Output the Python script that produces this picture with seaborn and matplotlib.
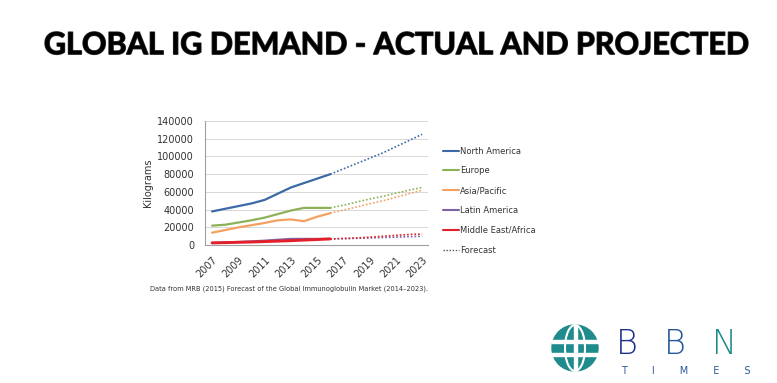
import matplotlib
matplotlib.use("Agg")
import matplotlib.pyplot as plt
import seaborn as sns
import pandas as pd
import numpy as np
from matplotlib.patches import Circle, Ellipse, Rectangle
from matplotlib.lines import Line2D
import matplotlib.patheffects as pe

years_actual = list(range(2007, 2017))
years_forecast = list(range(2016, 2024))

north_america = [38000, 41000, 44000, 47000, 51000, 58000, 65000, 70000, 75000, 80000]
europe = [22000, 23000, 25500, 28000, 31000, 35000, 39000, 42000, 42000, 42000]
asia_pacific = [14000, 17000, 20000, 22500, 25000, 28000, 29000, 27000, 32000, 36000]
latin_america = [2500, 3000, 3500, 4200, 5000, 6000, 7000, 7000, 7000, 7000]
middle_east_africa = [2500, 2800, 3200, 3500, 4000, 4500, 5000, 5700, 6300, 7000]

na_fc = [80000, 86000, 92000, 98000, 104000, 111000, 118000, 125000]
eu_fc = [42000, 45000, 48500, 52000, 55000, 58500, 62000, 65000]
ap_fc = [36000, 39500, 43000, 46500, 50000, 54000, 58000, 62000]
la_fc = [7000, 7300, 7700, 8100, 8500, 9000, 9500, 10000]
me_fc = [7000, 7500, 8000, 9000, 10000, 11000, 12000, 12500]

regions = ["North America", "Europe", "Asia/Pacific", "Latin America", "Middle East/Africa"]
colors = ["#3b6aa6", "#8db157", "#f4a060", "#7e62a3", "#e3202a"]

actual = [north_america, europe, asia_pacific, latin_america, middle_east_africa]
forecast = [na_fc, eu_fc, ap_fc, la_fc, me_fc]

rows = []
for r, a, f in zip(regions, actual, forecast):
    for y, v in zip(years_actual, a):
        rows.append(dict(Year=y, Value=v, Region=r, Kind="Actual"))
    for y, v in zip(years_forecast, f):
        rows.append(dict(Year=y, Value=v, Region=r, Kind="Forecast"))
df = pd.DataFrame(rows)

sns.set_theme(style="white")
plt.rcParams['font.family'] = ['DejaVu Sans']

fig = plt.figure(figsize=(7.77, 3.83), dpi=100)
ax = fig.add_axes([0.264, 0.360, 0.287, 0.324])

palette = dict(zip(regions, colors))
sns.lineplot(data=df[df.Kind == "Actual"], x="Year", y="Value", hue="Region",
             palette=palette, hue_order=regions, linewidth=1.6, ax=ax, legend=False)
sns.lineplot(data=df[df.Kind == "Forecast"], x="Year", y="Value", hue="Region",
             palette=palette, hue_order=regions, linewidth=1.2, linestyle=(0, (1, 1.2)),
             ax=ax, legend=False)
# emphasise the Middle East/Africa line, which sits on top in the reference
me_lines = ax.get_lines()
if len(me_lines) >= 5:
    me_lines[4].set_linewidth(2.1)
    me_lines[4].set_zorder(3)

ax.set_xlim(2006.47, 2023.46)
ax.set_ylim(0, 140000)
ax.set_yticks(range(0, 140001, 20000))
ax.set_xticks(range(2007, 2024, 2))
ax.set_xticklabels([str(y) for y in range(2007, 2024, 2)], rotation=45, fontsize=7,
                   ha="right", rotation_mode="anchor", color="#333333")
ax.tick_params(axis="y", labelsize=7, colors="#333333", pad=2)
ax.tick_params(axis="x", pad=1)
ax.set_xlabel("")
ax.set_ylabel("Kilograms", fontsize=7, color="#333333", labelpad=3)
ax.grid(axis="y", color="#d8d8d8", linewidth=0.7)
for s in ["top", "right"]:
    ax.spines[s].set_visible(False)
for s in ["left", "bottom"]:
    ax.spines[s].set_color("#a0a0a0")
    ax.spines[s].set_linewidth(0.8)

handles = [Line2D([0], [0], color=c, lw=1.5) for c in colors]
handles.append(Line2D([0], [0], color="#555555", lw=1.0, linestyle=(0, (1, 1.2))))
labels = regions + ["Forecast"]
leg = fig.legend(handles, labels, loc="upper left", bbox_to_anchor=(0.560, 0.637),
                 frameon=False, fontsize=6, handlelength=2.0, handletextpad=0.1,
                 labelspacing=1.3)
for t in leg.get_texts():
    t.set_color("#333333")

title = fig.text(0.510, 0.882, "GLOBAL IG DEMAND - ACTUAL AND PROJECTED", ha="center",
                 va="center", fontsize=28, fontweight="bold", family="Lato", color="black",
                 path_effects=[pe.withStroke(linewidth=1.0, foreground="#333333")])
renderer = fig.canvas.get_renderer()
w = title.get_window_extent(renderer).width
title.set_fontsize(28 * 706.0 / w)

fig.text(0.193, 0.245, "Data from MRB (2015) Forecast of the Global Immunoglobulin Market (2014\u20132023).",
         fontsize=4.8, color="#333333", ha="left", va="center")

# logo
lax = fig.add_axes([0, 0, 1, 1], facecolor="none")
lax.set_xlim(0, 777)
lax.set_ylim(383, 0)
lax.axis("off")
lax.add_patch(Circle((575, 348), 23, color="#1e8c8c"))
lax.add_patch(Ellipse((575, 348), 20, 46, fill=False, ec="white", lw=1.5))
lax.add_patch(Rectangle((552, 340), 46, 2.5, color="white"))
lax.add_patch(Rectangle((552, 353), 46, 2.5, color="white"))
lax.add_patch(Rectangle((574, 325), 2.5, 46, color="white"))
lax.text(616, 344, "B", fontsize=24, color="#1f2f8c", fontweight="light", va="center", ha="left")
lax.text(664, 344, "B", fontsize=24, color="#23579a", fontweight="light", va="center", ha="left")
lax.text(712, 344, "N", fontsize=24, color="#1e8c8c", fontweight="light", va="center", ha="left")
lax.text(686, 371, "T        I        M        E        S", fontsize=7, color="#2a5a9c",
         va="center", ha="center")

fig.savefig("out.png", dpi=100)
